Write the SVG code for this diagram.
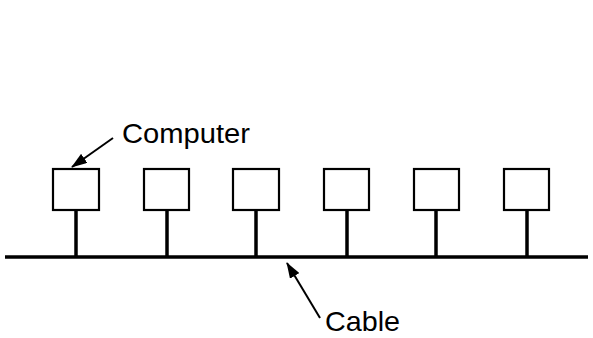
<svg xmlns="http://www.w3.org/2000/svg" width="593" height="338" viewBox="0 0 593 338">
<style>
.box{fill:#fff;stroke:#000;stroke-width:2.2}
.stem{stroke:#000;stroke-width:3.5}
.cable{stroke:#000;stroke-width:3.5}
.ptr{stroke:#000;stroke-width:2;fill:none}
.lbl{font-family:"Liberation Sans",Arial,sans-serif;font-size:27.5px;fill:#000}
</style>
<defs>
<marker id="ah" markerWidth="16" markerHeight="11" refX="15" refY="5.5" orient="auto" markerUnits="userSpaceOnUse">
<path d="M0,0 L16,5.5 L0,11 Z" fill="#000"/>
</marker>
</defs>
<rect width="593" height="338" fill="#fff"/>
<g id="connectors">
<line class="cable" x1="5" y1="257" x2="588" y2="257"/>
<line class="stem" x1="76" y1="210" x2="76" y2="257"/>
<line class="stem" x1="167" y1="210" x2="167" y2="257"/>
<line class="stem" x1="256" y1="210" x2="256" y2="257"/>
<line class="stem" x1="347" y1="210" x2="347" y2="257"/>
<line class="stem" x1="436" y1="210" x2="436" y2="257"/>
<line class="stem" x1="527" y1="210" x2="527" y2="257"/>
<line class="ptr" x1="113" y1="138" x2="72" y2="167" marker-end="url(#ah)"/>
<line class="ptr" x1="320" y1="318" x2="287" y2="263" marker-end="url(#ah)"/>
</g>
<g id="computer1"><rect class="box" x="53" y="169" width="46" height="41"/></g>
<g id="computer2"><rect class="box" x="144" y="169" width="45" height="41"/></g>
<g id="computer3"><rect class="box" x="233" y="169" width="46" height="41"/></g>
<g id="computer4"><rect class="box" x="324" y="169" width="45" height="41"/></g>
<g id="computer5"><rect class="box" x="414" y="169" width="45" height="41"/></g>
<g id="computer6"><rect class="box" x="504" y="169" width="45" height="41"/></g>
<g id="label-computer"><text class="lbl" x="122" y="143" textLength="128" lengthAdjust="spacingAndGlyphs">Computer</text></g>
<g id="label-cable"><text class="lbl" x="325" y="331" textLength="75" lengthAdjust="spacingAndGlyphs">Cable</text></g>
</svg>
